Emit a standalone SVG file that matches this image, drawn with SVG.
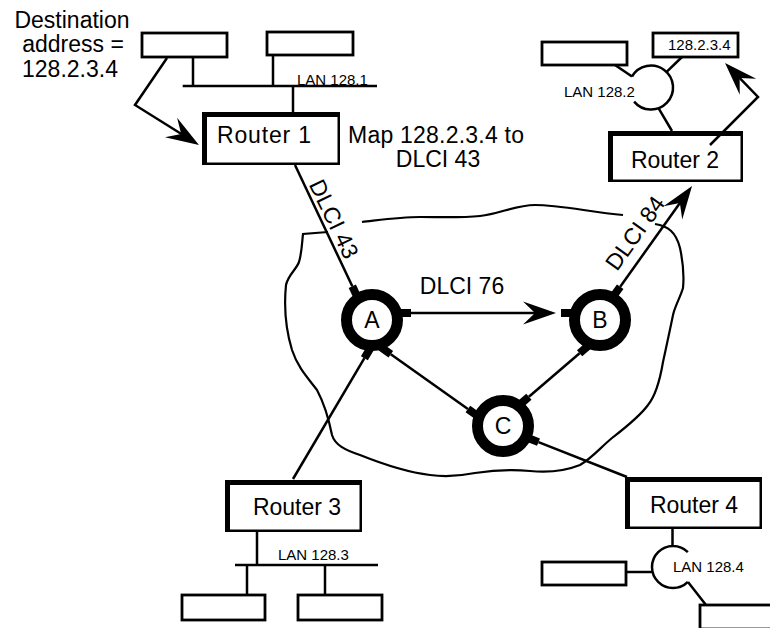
<svg xmlns="http://www.w3.org/2000/svg" width="770" height="628" viewBox="0 0 770 628">
<defs>
<style>
.t{font-family:"Liberation Sans",Arial,Helvetica,sans-serif;fill:#000}
.big{font-size:23px}
.sm{font-size:15px}
.ln{fill:none;stroke:#000;stroke-width:2.5}
.box{fill:#fff;stroke:#000;stroke-width:2.5}
.edge{fill:none;stroke:#000;stroke-width:5}
.host{fill:#fff;stroke:#000;stroke-width:2.8}
.ring{fill:#fff;stroke:#000;stroke-width:11}
.stub{stroke:#000;stroke-width:8}
.cloud{fill:none;stroke:#000;stroke-width:2.2}
</style>
<marker id="ah" viewBox="-42 -13 43 26" refX="-8" refY="0" markerWidth="43" markerHeight="26" markerUnits="userSpaceOnUse" orient="auto">
<path d="M0,0 L-33,-11.5 L-21,0 L-33,11.5 Z" fill="#000"/>
</marker>
</defs>
<rect width="770" height="628" fill="#fff"/>

<g id="cloud">
<path class="cloud" d="M655,224 C668,226 676,232 680,248 C683,262 684,278 683,288 C680,298 675,306 673,315 C670,330 666,348 663,362 C660,380 656,395 648,405 C640,416 625,428 612,438 C600,448 592,458 580,465 C565,471 550,473 530,471 C510,469 495,470 475,473 C460,476 445,477 430,475 C405,472 380,463 360,455 C345,450 335,445 332,435 C329,420 325,405 317,390 C308,378 298,368 292,350 C286,330 284,305 286,285 C288,275 296,270 299,262 C302,252 302,242 303,234 L328,232"/>
<path class="cloud" d="M362,222 C380,220 400,217 420,217 C440,217 460,218 480,216 C500,214 515,205 535,205 C560,205 590,212 623,215"/>
</g>

<g id="destination-label">
<text class="t big" x="72" y="28" text-anchor="middle">Destination</text>
<text class="t big" x="73" y="52" text-anchor="middle">address =</text>
<text class="t big" x="70" y="77" text-anchor="middle">128.2.3.4</text>
</g>

<g id="map-label">
<text class="t big" x="436" y="143" text-anchor="middle" textLength="176">Map 128.2.3.4 to</text>
<text class="t big" x="438" y="167" text-anchor="middle">DLCI 43</text>
</g>

<g id="lan1">
<rect class="host" x="142" y="33" width="85" height="24"/>
<rect class="host" x="267" y="32" width="86" height="23"/>
<text class="t sm" x="297" y="85">LAN 128.1</text>
</g>

<g id="lan2">
<rect class="host" x="542" y="42" width="85" height="23"/>
<rect class="host" x="653" y="33" width="85" height="24"/>
<text class="t sm" x="668" y="50">128.2.3.4</text>
<text class="t sm" x="564" y="97">LAN 128.2</text>
</g>

<g id="lan3">
<rect class="host" x="182" y="595" width="83" height="25"/>
<rect class="host" x="298" y="595" width="84" height="25"/>
<text class="t sm" x="278" y="560">LAN 128.3</text>
</g>

<g id="lan4">
<rect class="host" x="542" y="562" width="84" height="23"/>
<rect class="host" x="700" y="605" width="85" height="24"/>
<text class="t sm" x="673" y="572">LAN 128.4</text>
</g>

<g id="router1">
<rect class="box" x="203.25" y="113.25" width="135.5" height="50.5"/>
<path class="edge" d="M204.5,165 V114.5 H340"/>
<text class="t big" x="264" y="143" text-anchor="middle" textLength="94">Router 1</text>
</g>

<g id="router2">
<rect class="box" x="609.25" y="132.25" width="132.5" height="48.5"/>
<path class="edge" d="M610.5,182 V133.5 H743"/>
<text class="t big" x="675" y="168" text-anchor="middle">Router 2</text>
</g>

<g id="router3">
<rect class="box" x="226.25" y="481.25" width="134.5" height="49.5"/>
<path class="edge" d="M227.5,532 V482.5 H362"/>
<text class="t big" x="297" y="515" text-anchor="middle">Router 3</text>
</g>

<g id="router4">
<rect class="box" x="626.25" y="478.25" width="134.5" height="49.5"/>
<path class="edge" d="M627.5,529 V479.5 H762"/>
<text class="t big" x="694" y="513" text-anchor="middle">Router 4</text>
</g>

<g id="switchA">
<circle class="ring" cx="372" cy="320" r="25.5"/>
<line class="stub" x1="352.3" y1="286.3" x2="357.4" y2="297.1"/>
<line class="stub" x1="399" y1="313" x2="411" y2="313"/>
<line class="stub" x1="364.4" y1="358.2" x2="370.5" y2="347.9"/>
<line class="stub" x1="390.8" y1="354.2" x2="381" y2="347.3"/>
<text class="t big" x="372" y="328" text-anchor="middle">A</text>
</g>

<g id="switchB">
<circle class="ring" cx="600" cy="320" r="25.5"/>
<line class="stub" x1="561" y1="313" x2="573" y2="313"/>
<line class="stub" x1="579.6" y1="353.2" x2="588.7" y2="345.4"/>
<line class="stub" x1="620.2" y1="286.7" x2="613.2" y2="296.5"/>
<text class="t big" x="600" y="328" text-anchor="middle">B</text>
</g>

<g id="switchC">
<circle class="ring" cx="503" cy="426" r="25.5"/>
<line class="stub" x1="467.9" y1="409" x2="477.7" y2="416"/>
<line class="stub" x1="528.9" y1="396.8" x2="519.8" y2="404.6"/>
<line class="stub" x1="538.5" y1="442.1" x2="527.3" y2="437.7"/>
<text class="t big" x="503" y="434" text-anchor="middle">C</text>
</g>

<g id="connectors">
<path class="ln" d="M182.7,86 H377 M193,57 V86 M273,55 V86 M293,86 V112"/>
<polyline class="ln" points="167,58 135,105 192.2,140.8" marker-end="url(#ah)"/>
<line class="ln" x1="295" y1="165" x2="352.3" y2="286.3"/>
<line class="ln" x1="411" y1="313" x2="548" y2="313" marker-end="url(#ah)"/>
<line class="ln" x1="620.2" y1="286.7" x2="687.4" y2="192.5" marker-end="url(#ah)"/>
<line class="ln" x1="390.8" y1="354.2" x2="467.9" y2="409"/>
<line class="ln" x1="528.9" y1="396.8" x2="579.6" y2="353.2"/>
<line class="ln" x1="538.5" y1="442.1" x2="627" y2="477"/>
<line class="ln" x1="293" y1="479" x2="364.4" y2="358.2"/>
<path class="ln" d="M632,76.5 A22,22 0 1 1 634.1,101.6 M615,65 L632,76.5 M682,57 L666.6,71.9 M658.5,108.2 L672,131"/>
<polyline class="ln" points="710,145 758,97 730.6,68.7" marker-end="url(#ah)"/>
<path class="ln" d="M257,532 V565 M235,565 H378 M247,565 V595 M325,565 V595"/>
<path class="ln" d="M672.5,529 V546 M687.85,552.15 A21,21 0 1 0 687.85,581.85 M626,572 H652.6 M688,582 L706,605"/>
</g>

<g id="dlci-labels">
<text class="t big" text-anchor="middle" y="8" transform="translate(334,219) rotate(64.5)">DLCI 43</text>
<text class="t big" x="462" y="294" text-anchor="middle">DLCI 76</text>
<text class="t big" text-anchor="middle" y="8" transform="translate(635,233) rotate(-54.5)">DLCI 84</text>
</g>
</svg>
